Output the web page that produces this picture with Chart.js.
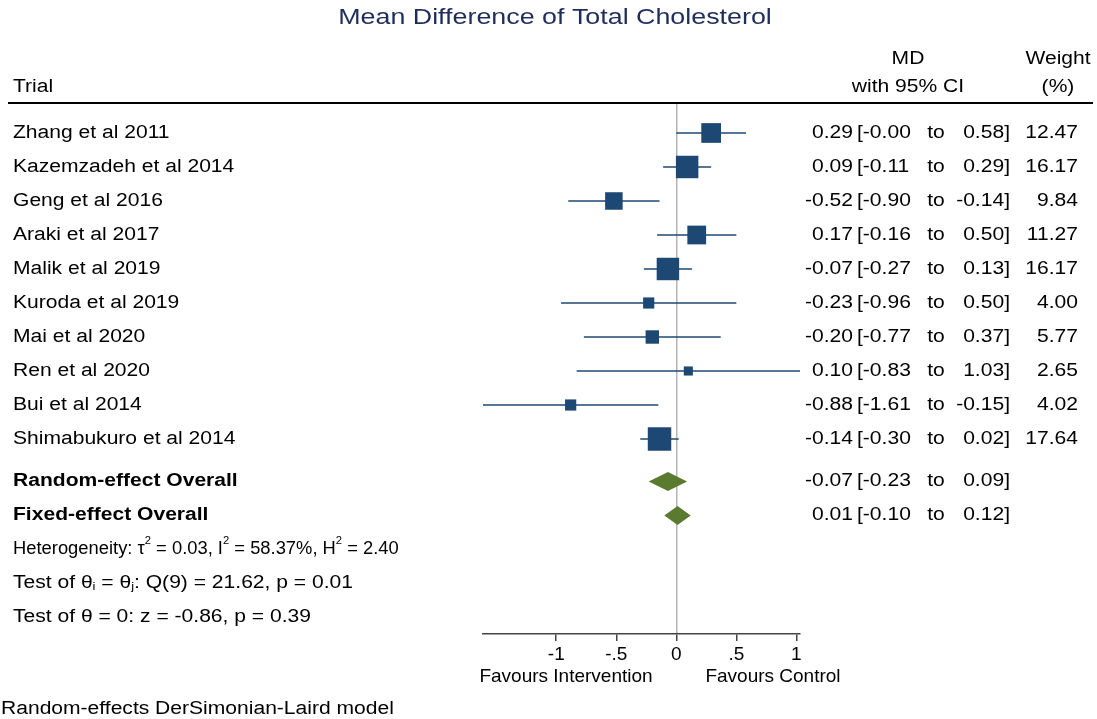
<!DOCTYPE html>
<html>
<head>
<meta charset="utf-8">
<title>Mean Difference of Total Cholesterol</title>
<script src="https://cdn.jsdelivr.net/npm/chart.js@4.4.1/dist/chart.umd.min.js"></script>
<style>
  html, body { margin: 0; padding: 0; background: #fff; }
  #forest { display: block; }
</style>
</head>
<body>
<canvas id="forest" width="1097" height="719"></canvas>
<script>
// trials
const trials = ['Zhang et al 2011', 'Kazemzadeh et al 2014', 'Geng et al 2016', 'Araki et al 2017',
  'Malik et al 2019', 'Kuroda et al 2019', 'Mai et al 2020', 'Ren et al 2020', 'Bui et al 2014',
  'Shimabukuro et al 2014'];
const md     = [0.29, 0.09, -0.52, 0.17, -0.07, -0.23, -0.20, 0.10, -0.88, -0.14];
const lower  = [-0.00, -0.11, -0.90, -0.16, -0.27, -0.96, -0.77, -0.83, -1.61, -0.30];
const upper  = [0.58, 0.29, -0.14, 0.50, 0.13, 0.50, 0.37, 1.03, -0.15, 0.02];
const weight = [12.47, 16.17, 9.84, 11.27, 16.17, 4.00, 5.77, 2.65, 4.02, 17.64];

// overall estimates
const pooledLabels = ['Random-effect Overall', 'Fixed-effect Overall'];
const pooledMd     = [-0.07, 0.01];
const pooledLower  = [-0.23, -0.10];
const pooledUpper  = [0.09, 0.12];
const pooledRows   = [10.25, 11.25];

// axis
const tickValues = [-1, -0.5, 0, 0.5, 1];
const tickLabels = ['-1', '-.5', '0', '.5', '1'];

const FONT = "'Liberation Sans', Arial, Helvetica, sans-serif";
const BLUE = '#1c4873';
const GREEN = '#5a7a30';
const STRETCH = 1.17;   // the exported graph has wide text

function fmt(v) {
  return (v < 0 || Object.is(v, -0) ? '-' : '') + Math.abs(v).toFixed(2);
}

// CI lines, one small dataset each
const ciSets = trials.map((t, i) => ({
  type: 'line',
  label: t + ' CI',
  data: [{ x: lower[i], y: i }, { x: upper[i], y: i }],
  borderColor: BLUE,
  borderWidth: 1.6,
  pointRadius: 0,
  showLine: true
}));

const boxSet = {
  label: 'MD',
  data: md.map((v, i) => ({ x: v, y: i })),
  pointStyle: 'rect',
  backgroundColor: BLUE,
  borderColor: BLUE,
  borderWidth: 0,
  pointRadius: ctx => 3.95 * Math.sqrt(weight[ctx.dataIndex])
};

// diamonds for the pooled rows
const diamondPlugin = {
  id: 'diamonds',
  afterDatasetsDraw(chart) {
    const { ctx, scales: { x, y } } = chart;
    ctx.save();
    ctx.fillStyle = GREEN;
    pooledMd.forEach((m, i) => {
      const py = y.getPixelForValue(pooledRows[i]);
      ctx.beginPath();
      ctx.moveTo(x.getPixelForValue(pooledLower[i]), py);
      ctx.lineTo(x.getPixelForValue(m), py - 9.5);
      ctx.lineTo(x.getPixelForValue(pooledUpper[i]), py);
      ctx.lineTo(x.getPixelForValue(m), py + 9.5);
      ctx.closePath();
      ctx.fill();
    });
    ctx.restore();
  }
};

// stretched text at an anchor
function txt(ctx, s, x, y, align, font, sx) {
  ctx.save();
  ctx.translate(x, y);
  ctx.scale(sx || STRETCH, 1);
  ctx.font = font;
  ctx.textAlign = align;
  ctx.fillText(s, 0, 0);
  ctx.restore();
}

// runs of text with sub/superscripts
function drawRuns(ctx, runs, x0, y0, size, sx) {
  let xx = x0;
  ctx.textAlign = 'left';
  runs.forEach(r => {
    const small = r.sup || r.sub;
    const f = (small ? Math.round(size * 0.6) : size) + 'px ' + FONT;
    const dy = r.sup ? -size * 0.45 : r.sub ? size * 0.2 : 0;
    txt(ctx, r.t, xx, y0 + dy, 'left', f, sx);
    ctx.font = f;
    xx += ctx.measureText(r.t).width * sx;
  });
}

const textPlugin = {
  id: 'forestText',
  afterDraw(chart) {
    const { ctx, scales: { y } } = chart;
    const F18 = '18px ' + FONT;
    ctx.save();
    ctx.textBaseline = 'middle';

    // title
    ctx.fillStyle = '#1f2d5c';
    txt(ctx, 'Mean Difference of Total Cholesterol', 555, 18, 'center', '22px ' + FONT, 1.22);

    // header
    ctx.fillStyle = '#000';
    txt(ctx, 'Trial', 13, 87, 'left', F18);
    txt(ctx, 'MD', 908, 59, 'center', F18);
    txt(ctx, 'with 95% CI', 908, 87, 'center', F18);
    txt(ctx, 'Weight', 1058, 59, 'center', F18);
    txt(ctx, '(%)', 1058, 87, 'center', F18);

    ctx.strokeStyle = '#000';
    ctx.lineWidth = 2;
    ctx.beginPath();
    ctx.moveTo(8, 103);
    ctx.lineTo(1093, 103);
    ctx.stroke();

    function rowText(label, m, lo, hi, w, py, bold) {
      txt(ctx, label, 13, py, 'left', (bold ? 'bold ' : '') + F18);
      txt(ctx, fmt(m), 853, py, 'right', F18);
      txt(ctx, '[' + fmt(lo), 857, py, 'left', F18);
      txt(ctx, 'to', 936, py, 'center', F18);
      txt(ctx, fmt(hi) + ']', 1010, py, 'right', F18);
      if (w !== null) txt(ctx, w.toFixed(2), 1078, py, 'right', F18);
    }

    trials.forEach((t, i) => rowText(t, md[i], lower[i], upper[i], weight[i], y.getPixelForValue(i), false));
    pooledLabels.forEach((t, i) => rowText(t, pooledMd[i], pooledLower[i], pooledUpper[i], null,
      y.getPixelForValue(pooledRows[i]), true));

    // heterogeneity lines
    drawRuns(ctx, [{ t: 'Heterogeneity: τ' }, { t: '2', sup: true }, { t: ' = 0.03, I' }, { t: '2', sup: true },
      { t: ' = 58.37%, H' }, { t: '2', sup: true }, { t: ' = 2.40' }], 13, y.getPixelForValue(12.25), 18, 1.02);
    drawRuns(ctx, [{ t: 'Test of θ' }, { t: 'i', sub: true }, { t: ' = θ' }, { t: 'j', sub: true },
      { t: ': Q(9) = 21.62, p = 0.01' }], 13, y.getPixelForValue(13.25), 18, STRETCH);
    drawRuns(ctx, [{ t: 'Test of θ = 0: z = -0.86, p = 0.39' }], 13, y.getPixelForValue(14.25), 18, STRETCH);

    // axis captions
    txt(ctx, 'Favours Intervention', 566, 677, 'center', '19px ' + FONT, 1);
    txt(ctx, 'Favours Control', 773, 677, 'center', '19px ' + FONT, 1);

    txt(ctx, 'Random-effects DerSimonian-Laird model', 1, 709, 'left', F18);
    ctx.restore();
  }
};

new Chart(document.getElementById('forest'), {
  type: 'scatter',
  data: { datasets: [...ciSets, boxSet] },
  options: {
    responsive: false,
    animation: false,
    devicePixelRatio: 1,
    layout: { padding: { left: 483, right: 297, top: 103, bottom: 0 } },
    plugins: { legend: { display: false }, tooltip: { enabled: false }, title: { display: false } },
    scales: {
      x: {
        type: 'linear',
        position: 'bottom',
        min: -1.61,
        max: 1.03,
        afterBuildTicks: s => { s.ticks = tickValues.map(v => ({ value: v })); },
        afterFit: s => { s.height = 85; },
        ticks: {
          callback: v => tickLabels[tickValues.indexOf(v)],
          font: { family: FONT, size: 19 },
          color: '#000',
          padding: 2,
          maxRotation: 0,
          autoSkip: false
        },
        grid: {
          color: c => (c.tick && c.tick.value === 0 ? '#b4b4b4' : 'rgba(0,0,0,0)'),
          lineWidth: 1.5,
          tickColor: '#444',
          tickLength: 7,
          drawOnChartArea: true
        },
        border: { display: true, color: '#444', width: 1.5 }
      },
      y: {
        type: 'linear',
        display: false,
        reverse: true,
        min: -0.882,
        max: 14.735
      }
    }
  },
  plugins: [diamondPlugin, textPlugin]
});
</script>
</body>
</html>
